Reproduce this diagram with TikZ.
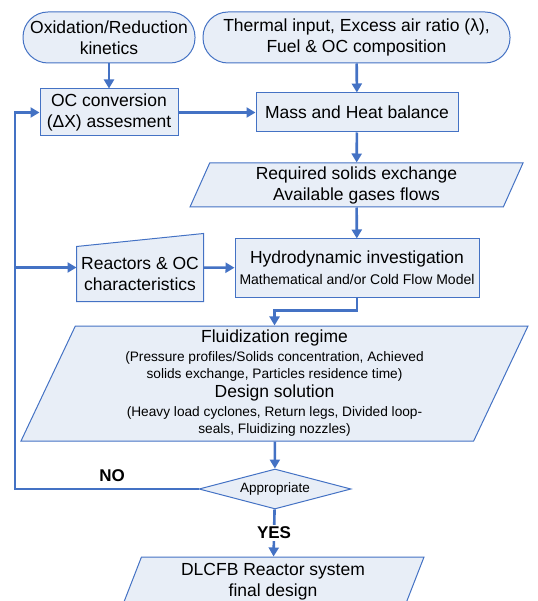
\documentclass[tikz,border=0pt]{standalone}
\usepackage{fontspec}
\setmainfont{Liberation Sans}
\usetikzlibrary{arrows.meta,shapes.geometric,backgrounds}

\definecolor{flowblue}{RGB}{68,114,196}
\definecolor{boxfill}{RGB}{232,238,247}

\newcommand{\maintext}{\fontsize{17.5}{21}\selectfont}
\newcommand{\subtext}{\fontsize{13.7}{17}\selectfont}

\tikzset{
  base/.style={draw=flowblue, fill=boxfill, line width=1pt, align=center, inner sep=1pt, font=\maintext},
  terminal/.style={base, rectangle, rounded corners=25pt},
  process/.style={base, rectangle},
  data/.style={base, trapezium, trapezium left angle=63.4, trapezium right angle=116.6, trapezium stretches body},
  decision/.style={base, diamond, aspect=3.8, inner sep=0pt, font=\fontsize{13.5}{16}\selectfont},
  flow/.style={draw=flowblue, line width=2.6pt, -{Triangle[width=10pt,length=9pt]}},
  answer/.style={font=\bfseries\fontsize{17}{20}\selectfont},
}

\begin{document}
\begin{tikzpicture}[x=1pt, y=-1pt]
  \useasboundingbox (0,0) rectangle (537,601);

  % Inputs
  \node[terminal, minimum width=172pt, minimum height=51pt] (kin) at (109,37.5) {Oxidation/Reduction\\kinetics};
  \node[terminal, minimum width=307pt, minimum height=51pt] (input) at (356.5,37.5) {Thermal input, Excess air ratio (λ),\\Fuel \& OC composition};

  % Balances
  \node[process, minimum width=138pt, minimum height=47pt] (oc) at (109,112.5) {OC conversion\\(ΔX) assesment};
  \node[process, minimum width=202pt, minimum height=39pt] (mass) at (357,112.5) {Mass and Heat balance};
  \node[data, minimum width=333pt, minimum height=44pt] (req) at (356.5,185) {Required solids exchange\\Available gases flows};

  % Hydrodynamics
  \node[process, minimum width=244pt, minimum height=58pt] (hydro) at (357,268) {Hydrodynamic investigation\\{\fontsize{14}{17}\selectfont Mathematical and/or Cold Flow Model}};
  \node[process, draw=none, fill=none, minimum width=126pt, minimum height=67pt] (react) at (140,267.5) {\rule{0pt}{25pt}Reactors \& OC\\characteristics};
  \begin{scope}[on background layer]
    \draw[draw=flowblue, fill=boxfill, line width=1pt] (react.south west) -- (react.south east) -- (react.north east) -- ([yshift=-13pt]react.north west) -- cycle;
  \end{scope}

  \node[data, minimum width=507pt, minimum height=115pt] (fluid) at (274.5,383.5) {Fluidization regime\\[-2pt]
    {\subtext (Pressure profiles/Solids concentration, Achieved}\\[-4pt]
    {\subtext solids exchange, Particles residence time)}\\[-2pt]
    Design solution\\[-2pt]
    {\subtext (Heavy load cyclones, Return legs, Divided loop-}\\[-4pt]
    {\subtext seals, Fluidizing nozzles)}};

  % Check
  \node[decision, minimum width=152pt, minimum height=40pt] (appr) at (275,489) {Appropriate};
  \node[data, minimum width=302pt, minimum height=50pt] (final) at (273,582) {DLCFB Reactor system\\final design};

  \coordinate (loop) at (15,0);

  % Straight
  \draw[flow] (kin) -- (oc);
  \draw[flow] (input) -- (mass);
  \draw[flow] (oc) -- (mass);
  \draw[flow] (mass) -- (req);
  \draw[flow] (req) -- (hydro);
  \draw[flow] (react) -- (hydro);
  \draw[flow] (hydro.south) -- ++(0,13) -| (fluid.north);
  \draw[flow] (fluid) -- (appr);
  \draw[flow] (appr) -- node[answer, fill=white, inner sep=2pt] (yes) {YES} (final);

  % Loop back
  \draw[flow] (appr.west) -- (appr.west -| loop) |- (oc.west);
  \draw[flow] (react.west -| loop) -- (react.west);
  \node[answer] (no) at (112,476) {NO};
\end{tikzpicture}
\end{document}
